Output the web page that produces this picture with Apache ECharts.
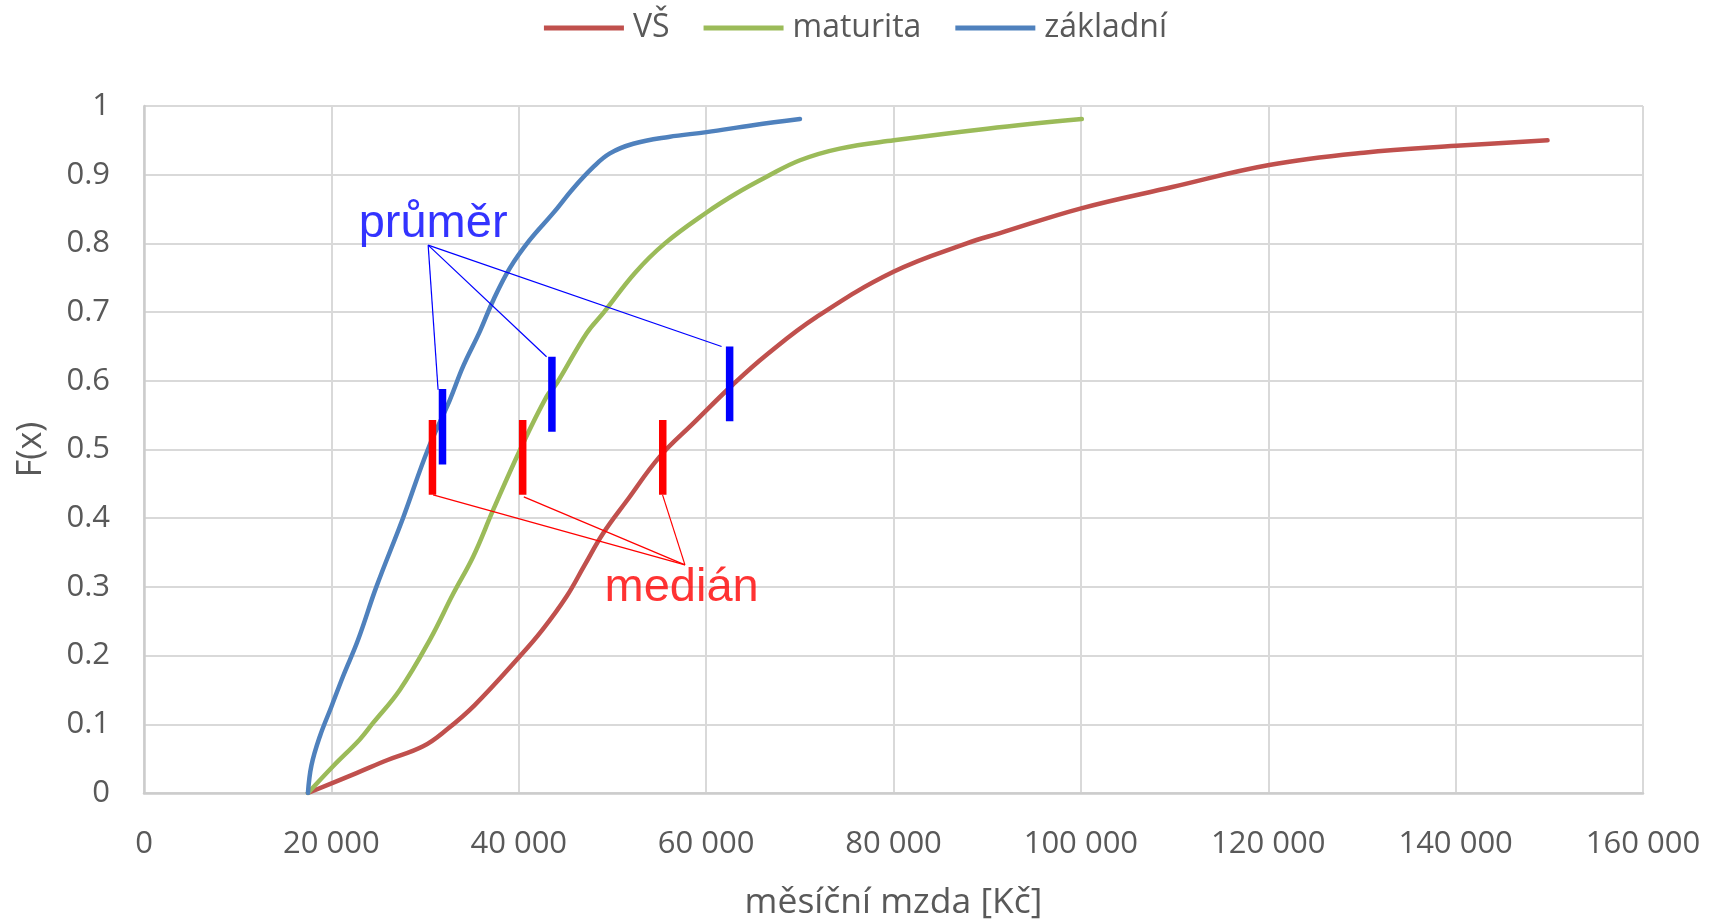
<!DOCTYPE html>
<html>
<head>
<meta charset="utf-8">
<title>Distribuční funkce měsíční mzdy</title>
<script src="https://cdn.jsdelivr.net/npm/echarts@6/dist/echarts.min.js"></script>
<style>
  html, body { margin: 0; padding: 0; background: #fff; overflow: hidden; width: 1711px; height: 923px; }
  #chart { width: 1711px; height: 923px; }
</style>
</head>
<body>
<div id="chart"></div>
<script>
// Empirical distribution functions F(x) of monthly wage by education level
const seriesNames = ['VŠ', 'maturita', 'základní'];

const vs = [[17500,0],[22680,0.029],[26000,0.048],[29790,0.068],[32290,0.092],[35300,0.128],
  [40120,0.199],[42500,0.237],[45100,0.286],[47000,0.331],[49010,0.378],[51510,0.425],
  [55070,0.49],[58620,0.538],[62890,0.595],[66460,0.638],[71800,0.693],[80050,0.759],
  [87820,0.8],[91370,0.815],[100030,0.851],[109760,0.882],[120100,0.914],[130200,0.932],
  [140080,0.942],[149810,0.95]];

const maturita = [[17500,0],[20180,0.039],[23030,0.078],[24450,0.102],[27300,0.15],[30510,0.223],
  [33000,0.29],[35130,0.344],[37270,0.412],[40120,0.499],[42970,0.577],[44040,0.596],
  [47230,0.669],[49100,0.7],[52400,0.757],[55600,0.8],[60050,0.845],[63260,0.873],
  [66460,0.897],[70020,0.921],[74260,0.938],[80050,0.95],[90000,0.967],[100100,0.981]];

const zakladni = [[17500,0],[17870,0.04],[18760,0.082],[20010,0.126],[21250,0.17],[22850,0.223],
  [24800,0.3],[27640,0.4],[30300,0.5],[32640,0.572],[34060,0.621],[35850,0.672],
  [37270,0.717],[39050,0.764],[41180,0.805],[43670,0.844],[45810,0.88],[47940,0.911],
  [49730,0.931],[52220,0.945],[56000,0.955],[60050,0.962],[65000,0.972],[70020,0.981]];

// Means (průměr) and medians (medián) of the three groups: x value and F range of each marker
const prumerX  = [31860, 43540, 62510];
const prumerLo = [0.478, 0.526, 0.541];
const prumerHi = [0.588, 0.635, 0.650];
const medianX  = [30790, 40420, 55370];
const medianLo = [0.434, 0.434, 0.434];
const medianHi = [0.543, 0.543, 0.543];

// Annotation texts, their anchor points and leader lines (data coordinates)
const annotTexts = ['průměr', 'medián'];
const prumerTextAt = [30860, 0.828];
const prumerLeadFrom = [30330, 0.7975];
const prumerLeadTo = [[31390, 0.587], [42970, 0.635], [61650, 0.650]];
const medianTextAt = [57380, 0.298];
const medianLeadFrom = [57740, 0.332];
const medianLeadTo = [[30860, 0.434], [40540, 0.431], [55350, 0.434]];

const xTicks = { min: 0, max: 160000, interval: 20000 };
const yTicks = { min: 0, max: 1, interval: 0.1 };

const lineColors = ['#C0504D', '#9BBB59', '#4F81BD'];
const BLUE = '#0000FF', RED = '#FF0000';
const axisFont = 'Open Sans';
const annotFont = 'Liberation Sans';

function thousands(v) {
  return String(v).replace(/\B(?=(\d{3})+(?!\d))/g, ' ');
}

const series = [];
[vs, maturita, zakladni].forEach((d, i) => {
  series.push({
    name: seriesNames[i], type: 'line', data: d,
    showSymbol: false, symbol: 'none',
    smooth: 0.4,
    lineStyle: { color: lineColors[i], width: 4.5, cap: 'round', join: 'round' },
    itemStyle: { color: lineColors[i] },
    z: 2
  });
});

function segment(a, b, color, width, z) {
  return {
    type: 'line', data: [a, b], symbol: 'none', showSymbol: false,
    lineStyle: { color: color, width: width, cap: 'butt' },
    silent: true, z: z, legendHoverLink: false
  };
}

// leader lines
prumerLeadTo.forEach(p => series.push(segment(prumerLeadFrom, p, BLUE, 1.2, 3)));
medianLeadTo.forEach(p => series.push(segment(medianLeadFrom, p, RED, 1.2, 3)));
// mean and median markers
medianX.forEach((x, i) => series.push(segment([x, medianLo[i]], [x, medianHi[i]], RED, 7.5, 4)));
prumerX.forEach((x, i) => series.push(segment([x, prumerLo[i]], [x, prumerHi[i]], BLUE, 7.5, 4)));

// annotation texts
function textMark(at, text, color) {
  return {
    type: 'scatter', data: [at], symbolSize: 1,
    itemStyle: { color: 'rgba(0,0,0,0)' }, silent: true, z: 5,
    label: {
      show: true, position: 'inside', formatter: text,
      color: color, fontFamily: annotFont, fontSize: 47,
      align: 'center', verticalAlign: 'middle'
    }
  };
}
series.push(textMark(prumerTextAt, annotTexts[0], BLUE));
series.push(textMark(medianTextAt, annotTexts[1], RED));

const chart = echarts.init(document.getElementById('chart'), null, { renderer: 'canvas' });
chart.setOption({
  animation: false,
  backgroundColor: '#ffffff',
  grid: { left: 144, right: 68, top: 106, bottom: 130, containLabel: false, outerBoundsMode: 'none' },
  legend: {
    data: seriesNames,
    top: 7, left: 'center',
    icon: 'rect', itemWidth: 80, itemHeight: 5, itemGap: 34,
    textStyle: { color: '#595959', fontFamily: axisFont, fontSize: 32, padding: [0, 0, 0, 4] }
  },
  xAxis: {
    type: 'value', min: xTicks.min, max: xTicks.max, interval: xTicks.interval,
    name: 'měsíční mzda [Kč]', nameLocation: 'middle', nameGap: 92,
    nameTextStyle: { color: '#595959', fontFamily: axisFont, fontSize: 35.5 },
    axisLine: { show: true, lineStyle: { color: '#cccccc', width: 2.5 } },
    axisTick: { show: false },
    axisLabel: { color: '#595959', fontFamily: axisFont, fontSize: 31, margin: 36,
      formatter: v => thousands(v) },
    splitLine: { show: true, lineStyle: { color: '#d9d9d9', width: 2 } }
  },
  yAxis: {
    type: 'value', min: yTicks.min, max: yTicks.max, interval: yTicks.interval,
    name: 'F(x)', nameLocation: 'middle', nameGap: 96, nameRotate: 90,
    nameTextStyle: { color: '#595959', fontFamily: axisFont, fontSize: 34 },
    axisLine: { show: true, lineStyle: { color: '#cccccc', width: 2.5 } },
    axisTick: { show: false },
    axisLabel: { color: '#595959', fontFamily: axisFont, fontSize: 31, margin: 34,
      formatter: v => String(+v.toFixed(1)) },
    splitLine: { show: true, lineStyle: { color: '#d9d9d9', width: 2 } }
  },
  series: series
});
</script>
</body>
</html>
